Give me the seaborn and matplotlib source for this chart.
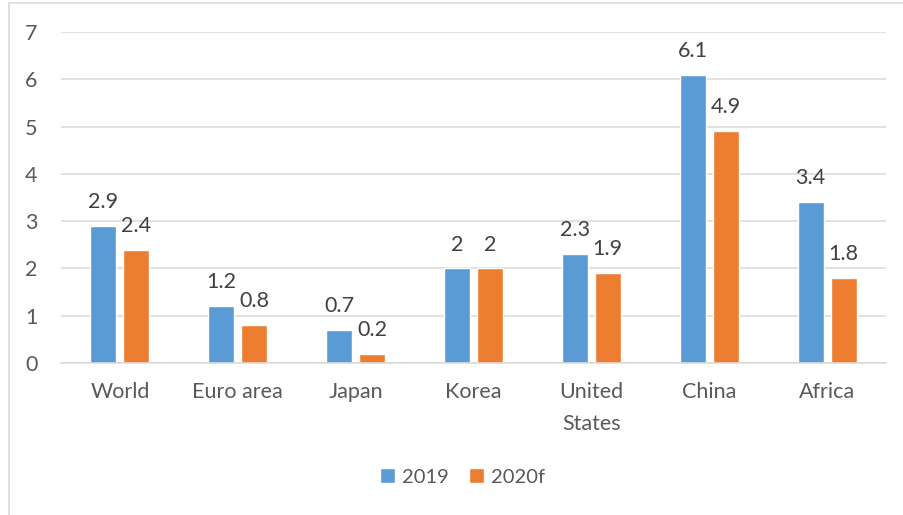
import matplotlib
matplotlib.use("Agg")
import matplotlib.pyplot as plt
from matplotlib.patches import Rectangle
import seaborn as sns
import pandas as pd

regions = ["World", "Euro area", "Japan", "Korea", "United\nStates", "China", "Africa"]
growth_2019 = [2.9, 1.2, 0.7, 2, 2.3, 6.1, 3.4]
growth_2020f = [2.4, 0.8, 0.2, 2, 1.9, 4.9, 1.8]
series = ["2019", "2020f"]
y_ticks = [0, 1, 2, 3, 4, 5, 6, 7]

df = pd.DataFrame({
    "region": regions * 2,
    "value": growth_2019 + growth_2020f,
    "series": [series[0]] * len(regions) + [series[1]] * len(regions),
})

sns.set_theme(style="white")
plt.rcParams["font.family"] = ["Lato", "DejaVu Sans"]

W, H = 904, 515
fig = plt.figure(figsize=(W / 100, H / 100), dpi=100)
ax = fig.add_axes([61 / W, 1 - 363 / H, (886 - 61) / W, (363 - 32) / H])

palette = {"2019": "#5B9BD5", "2020f": "#ED7D31"}
sns.barplot(data=df, x="region", y="value", hue="series", palette=palette,
            order=regions, hue_order=series, width=0.56, gap=0.21,
            errorbar=None, saturation=1, ax=ax, legend=True)

ax.set_ylim(0, 7)
ax.set_xlim(-0.5, len(regions) - 0.5)
ax.set_yticks(y_ticks)
ax.set_yticklabels([str(t) for t in y_ticks])
ax.yaxis.grid(True, color="#D9D9D9", linewidth=1.1)
ax.set_axisbelow(True)
for side in ["top", "right", "left"]:
    ax.spines[side].set_visible(False)
ax.spines["bottom"].set_color("#D9D9D9")
ax.spines["bottom"].set_linewidth(1.1)
ax.tick_params(axis="both", length=0, labelsize=15.5, colors="#595959")
ax.tick_params(axis="y", pad=17)
ax.tick_params(axis="x", pad=14)
for lbl in ax.get_xticklabels():
    lbl.set_linespacing(1.75)
ax.set_xlabel("")
ax.set_ylabel("")

for container in ax.containers:
    labels = [f"{v:g}" for v in container.datavalues]
    ax.bar_label(container, labels=labels, padding=10, fontsize=15.5, color="#404040")

handles, labels = ax.get_legend_handles_labels()
ax.get_legend().remove()
fig.legend(handles, labels, loc="center", bbox_to_anchor=(0.512, 1 - 477 / H),
           ncol=2, frameon=False, fontsize=14.5, handlelength=0.75, handleheight=0.75,
           handletextpad=0.35, columnspacing=1.0, labelcolor="#595959")

fig.patches.append(Rectangle((9 / W, -0.1), 1.2, 1 - 3 / H + 0.1,
                             transform=fig.transFigure, fill=False,
                             edgecolor="#D9D9D9", linewidth=1.2))

fig.savefig("out.png", dpi=100, facecolor="white")
